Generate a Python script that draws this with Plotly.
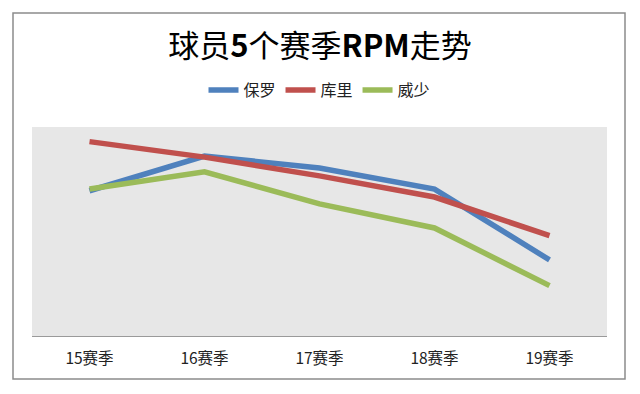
import plotly.graph_objects as go

categories = ["15赛季", "16赛季", "17赛季", "18赛季", "19赛季"]
paul = [6.95, 8.61, 8.04, 7.03, 3.64]
curry = [9.30, 8.56, 7.66, 6.65, 4.80]
westbrook = [7.03, 7.86, 6.32, 5.17, 2.41]

series = [("保罗", paul, "#4F81BD"), ("库里", curry, "#C0504D"), ("威少", westbrook, "#9BBB59")]

fig = go.Figure()
for name, vals, color in series:
    fig.add_trace(go.Scatter(x=categories, y=vals, name=name, mode="lines",
                             line=dict(color=color, width=5.5)))

fig.update_layout(
    width=640, height=394,
    margin=dict(l=32, r=33, t=127, b=58),
    paper_bgcolor="white",
    plot_bgcolor="#E7E7E7",
    title=dict(text="球员<b>5</b>个赛季<b>RPM</b>走势", x=0.5, xanchor="center",
               y=1 - 46/394, yanchor="middle",
               font=dict(family="Noto Sans CJK SC", size=31, color="black")),
    legend=dict(orientation="h", x=0.5, xanchor="center", y=(336-90)/209, yanchor="middle",
                font=dict(family="Noto Sans CJK SC", size=16, color="#222"),
                itemwidth=30, bgcolor="rgba(0,0,0,0)"),
    showlegend=True,
    xaxis=dict(type="category", range=[-0.5, 4.5], showgrid=False, showline=True,
               linecolor="#9A9A9A", linewidth=1, ticks="", zeroline=False,
               tickfont=dict(family="Noto Sans CJK SC", size=15.5, color="#222"),
               ticklabelstandoff=8, fixedrange=True),
    yaxis=dict(range=[0, 10], showgrid=False, showticklabels=False, zeroline=False,
               showline=False, ticks="", fixedrange=True),
    shapes=[dict(type="rect", xref="paper", yref="paper",
                 x0=(13-32)/575, x1=(625-32)/575, y0=(336-379)/209, y1=(336-13)/209,
                 line=dict(color="#8C8C8C", width=1.5), fillcolor="rgba(0,0,0,0)", layer="below")],
)

fig.write_html("out.html")
